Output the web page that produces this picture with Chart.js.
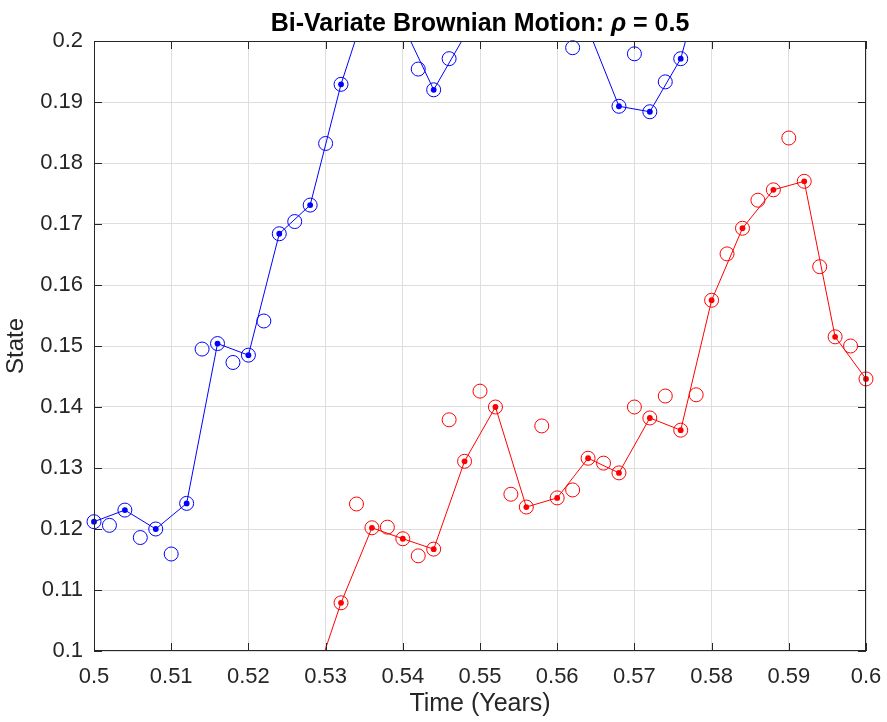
<!DOCTYPE html>
<html>
<head>
<meta charset="utf-8">
<script src="https://cdn.jsdelivr.net/npm/chart.js@4.4.1/dist/chart.umd.min.js"></script>
<style>
  html, body { margin: 0; padding: 0; background: #fff; }
  #wrap { width: 887px; height: 722px; }
</style>
</head>
<body>
<div id="wrap"><canvas id="chart" width="887" height="722"></canvas></div>
<script>
// sample times (years), one every 0.002
const times = [
  0.500, 0.502, 0.504, 0.506, 0.508, 0.510, 0.512, 0.514, 0.516, 0.518,
  0.520, 0.522, 0.524, 0.526, 0.528, 0.530, 0.532, 0.534, 0.536, 0.538,
  0.540, 0.542, 0.544, 0.546, 0.548, 0.550, 0.552, 0.554, 0.556, 0.558,
  0.560, 0.562, 0.564, 0.566, 0.568, 0.570, 0.572, 0.574, 0.576, 0.578,
  0.580, 0.582, 0.584, 0.586, 0.588, 0.590, 0.592, 0.594, 0.596, 0.598,
  0.600
];

// blue path (values above 0.2 are off the axes, estimated from the line slopes)
const stateA = [
  0.1212, 0.1206, 0.1231, 0.1186, 0.1200, 0.1159, 0.1242, 0.1495, 0.1504, 0.1473,
  0.1485, 0.1541, 0.1684, 0.1704, 0.1731, 0.1832, 0.1929, 0.2030, 0.2085, 0.2060,
  0.2027, 0.1954, 0.1920, 0.1971, 0.2008, 0.2040, 0.2070, 0.2100, 0.2080, 0.2050,
  0.2040, 0.1989, 0.2020, 0.2010, 0.1893, 0.1979, 0.1884, 0.1933, 0.1971, 0.2050,
  0.2157, 0.2180, 0.2210, 0.2190, 0.2230, 0.2260, 0.2240, 0.2280, 0.2310, 0.2290,
  0.2330
];

// red path (values below 0.1 are off the axes, estimated)
const stateB = [
  0.0862, 0.0841, 0.0855, 0.0820, 0.0803, 0.0834, 0.0817, 0.0851, 0.0866, 0.0849,
  0.0872, 0.0898, 0.0885, 0.0911, 0.0929, 0.0968, 0.1079, 0.1241, 0.1202, 0.1203,
  0.1184, 0.1156, 0.1167, 0.1379, 0.1311, 0.1426, 0.1400, 0.1257, 0.1236, 0.1369,
  0.1251, 0.1264, 0.1316, 0.1308, 0.1292, 0.1400, 0.1382, 0.1418, 0.1362, 0.1420,
  0.1575, 0.1651, 0.1693, 0.1739, 0.1756, 0.1841, 0.1770, 0.1630, 0.1515, 0.1500,
  0.1446
];

const xTicks = [0.5, 0.51, 0.52, 0.53, 0.54, 0.55, 0.56, 0.57, 0.58, 0.59, 0.6];
const xTickLabels = ['0.5', '0.51', '0.52', '0.53', '0.54', '0.55', '0.56', '0.57', '0.58', '0.59', '0.6'];
const yTicks = [0.1, 0.11, 0.12, 0.13, 0.14, 0.15, 0.16, 0.17, 0.18, 0.19, 0.2];
const yTickLabels = ['0.1', '0.11', '0.12', '0.13', '0.14', '0.15', '0.16', '0.17', '0.18', '0.19', '0.2'];

const titleParts = ['Bi-Variate Brownian Motion: ', '\u03C1', ' = 0.5'];
const xTitle = 'Time (Years)';
const yTitle = 'State';

const FONT = "'Liberation Sans', Arial, sans-serif";
const yMin = yTicks[0], yMax = yTicks[yTicks.length - 1];

function points(values) {
  return times.map((t, i) => ({ x: t, y: values[i] }));
}
// the coarse path uses every other sample
function coarse(values) {
  return points(values).filter((p, i) => i % 2 === 0);
}
// markers whose centre is off the axes are not drawn
function inside(pts) {
  return pts.map(p => ({ x: p.x, y: (p.y >= yMin && p.y <= yMax) ? p.y : null }));
}

function lineSet(values, color) {
  return {
    data: coarse(values), showLine: true, borderColor: color, borderWidth: 1,
    pointRadius: 0, clip: 0, order: 2
  };
}
function dotSet(values, color) {
  return {
    data: inside(coarse(values)), showLine: false, pointRadius: 2.9,
    backgroundColor: color, borderColor: color, borderWidth: 0, clip: false, order: 1
  };
}
function ringSet(values, color) {
  return {
    data: inside(points(values)), showLine: false, pointRadius: 7,
    backgroundColor: 'rgba(0,0,0,0)', borderColor: color, borderWidth: 1, clip: false, order: 0
  };
}

const axesBox = {
  id: 'axesBox',
  afterDraw(chart) {
    const { ctx, chartArea: a, scales: { x, y } } = chart;
    ctx.save();
    ctx.strokeStyle = '#262626';
    ctx.lineWidth = 1;
    ctx.beginPath();
    x.ticks.forEach(t => {
      const px = Math.round(x.getPixelForValue(t.value)) + 0.5;
      ctx.moveTo(px, a.bottom); ctx.lineTo(px, a.bottom - 8);
      ctx.moveTo(px, a.top); ctx.lineTo(px, a.top + 8);
    });
    y.ticks.forEach(t => {
      const py = Math.round(y.getPixelForValue(t.value)) + 0.5;
      ctx.moveTo(a.left, py); ctx.lineTo(a.left + 8, py);
      ctx.moveTo(a.right, py); ctx.lineTo(a.right - 8, py);
    });
    ctx.stroke();
    ctx.strokeRect(a.left + 0.5, a.top + 0.5, a.right - a.left - 1, a.bottom - a.top - 1);

    // title with an italic rho
    const fonts = ['bold 25px ' + FONT, 'italic bold 25px ' + FONT, 'bold 25px ' + FONT];
    let widths = titleParts.map((s, i) => { ctx.font = fonts[i]; return ctx.measureText(s).width; });
    let total = widths.reduce((s, w) => s + w, 0);
    let tx = (a.left + a.right) / 2 - total / 2;
    ctx.fillStyle = '#000';
    ctx.textBaseline = 'alphabetic';
    ctx.textAlign = 'left';
    titleParts.forEach((s, i) => {
      ctx.font = fonts[i];
      ctx.fillText(s, tx, 31);
      tx += widths[i];
    });
    ctx.restore();
  }
};

new Chart(document.getElementById('chart'), {
  type: 'scatter',
  data: {
    datasets: [
      lineSet(stateA, '#0000ff'), dotSet(stateA, '#0000ff'), ringSet(stateA, '#0000ff'),
      lineSet(stateB, '#ff0000'), dotSet(stateB, '#ff0000'), ringSet(stateB, '#ff0000')
    ]
  },
  options: {
    responsive: false,
    animation: false,
    layout: { padding: { top: 41, right: 21, left: 0, bottom: 0 } },
    plugins: { legend: { display: false }, tooltip: { enabled: false }, title: { display: false } },
    scales: {
      x: {
        type: 'linear', min: xTicks[0], max: xTicks[xTicks.length - 1],
        afterBuildTicks: s => { s.ticks = xTicks.map(v => ({ value: v })); },
        afterFit: s => { s.height = 71; s.paddingLeft = 0; s.paddingRight = 0; },
        ticks: {
          callback: (v, i) => xTickLabels[i], color: '#262626', padding: 13,
          maxRotation: 0, autoSkip: false, font: { family: FONT, size: 22 }
        },
        grid: { color: '#dedede', drawTicks: false },
        border: { display: false },
        title: { display: true, text: xTitle, color: '#262626', padding: { top: 0, bottom: 3 }, font: { family: FONT, size: 25 } }
      },
      y: {
        type: 'linear', min: yMin, max: yMax,
        afterBuildTicks: s => { s.ticks = yTicks.map(v => ({ value: v })); },
        afterFit: s => { s.width = 94; s.paddingTop = 0; s.paddingBottom = 0; },
        ticks: {
          callback: (v, i) => yTickLabels[i], color: '#262626', padding: 11,
          autoSkip: false, font: { family: FONT, size: 22 }
        },
        grid: { color: '#dedede', drawTicks: false },
        border: { display: false },
        title: { display: true, text: yTitle, color: '#262626', padding: { top: 2, bottom: 0 }, font: { family: FONT, size: 24 } }
      }
    }
  },
  plugins: [axesBox]
});
</script>
</body>
</html>
